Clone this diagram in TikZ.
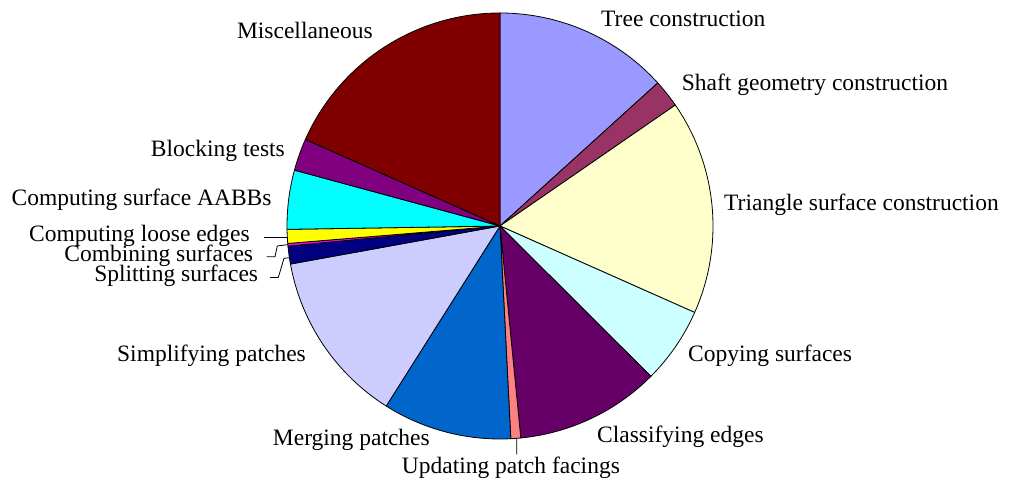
\documentclass[tikz,border=0pt]{standalone}
\usepackage{fontspec}
\setmainfont{Liberation Serif}
\usetikzlibrary{calc}
% slice colours
\definecolor{cTree}{HTML}{9999FF}
\definecolor{cShaft}{HTML}{993366}
\definecolor{cTri}{HTML}{FFFFCC}
\definecolor{cCopy}{HTML}{CCFFFF}
\definecolor{cClass}{HTML}{660066}
\definecolor{cUpd}{HTML}{FF8080}
\definecolor{cMerge}{HTML}{0066CC}
\definecolor{cSimp}{HTML}{CCCCFF}
\definecolor{cSplit}{HTML}{000080}
\definecolor{cComb}{HTML}{FF00FF}
\definecolor{cLoose}{HTML}{FFFF00}
\definecolor{cAabb}{HTML}{00FFFF}
\definecolor{cBlock}{HTML}{800080}
\definecolor{cMisc}{HTML}{800000}
\begin{document}
\begin{tikzpicture}[x=1pt,y=1pt,
  lbl/.style={font=\fontsize{23.5}{28}\selectfont, inner sep=0pt},
  wedge/.style={draw=black, line width=0.8pt, line join=round},
  leader/.style={draw=black, line width=0.8pt}]
\useasboundingbox (0,0) rectangle (1011,481);
\coordinate (c) at (500,255);
\def\R{213}
% pie slices, clockwise from the top
\foreach \a/\b/\col in {90/42.2/cTree, 42.2/34.6/cShaft, 34.6/-23.95/cTri,
    -23.95/-44.9/cCopy, -44.9/-84.4/cClass, -84.4/-87.1/cUpd,
    -87.1/-122.3/cMerge, -122.3/-169.7/cSimp, -169.7/-174.6/cSplit,
    -174.6/-175.3/cComb, -175.3/-179.1/cLoose, -179.1/-195.2/cAabb,
    -195.2/-204/cBlock, -204/-270/cMisc}
  \filldraw[wedge, fill=\col] (c) -- ++(\a:\R) arc[start angle=\a, end angle=\b, radius=\R] -- cycle;

% labels
\node[lbl, anchor=base west] (tree)  at (601,454.3)   {Tree construction};
\node[lbl, anchor=base west] (shaft) at (681.7,390.3) {Shaft geometry construction};
\node[lbl, anchor=base west] (tri)   at (724,270.3)   {Triangle surface construction};
\node[lbl, anchor=base west] (copy)  at (688,119)     {Copying surfaces};
\node[lbl, anchor=base west] (class) at (597,38)      {Classifying edges};
\node[lbl, anchor=base west] (upd)   at (401.7,7.7)   {Updating patch facings};
\node[lbl, anchor=base east] (merge) at (430,35)      {Merging patches};
\node[lbl, anchor=base east] (simp)  at (306,119)     {Simplifying patches};
\node[lbl, anchor=base east] (split) at (258.3,199.3) {Splitting surfaces};
\node[lbl, anchor=base east] (comb)  at (253.3,219.3) {Combining surfaces};
\node[lbl, anchor=base east] (loose) at (250,239.3)   {Computing loose edges};
\node[lbl, anchor=base east] (aabb)  at (271.7,275)   {Computing surface AABBs};
\node[lbl, anchor=base east] (block) at (285,324.3)   {Blocking tests};
\node[lbl, anchor=base east] (misc)  at (373,442)     {Miscellaneous};

% leader lines for the thin slices
\coordinate (pLoose) at (287.5,243.7);
\coordinate (pComb)  at (288,236.4);
\coordinate (pSplit) at (289.5,223.3);
\coordinate (pUpd)   at ($(c)+(-85.5:\R)$);
\draw[leader] ([xshift=14pt,yshift=4.4pt]loose.base east) -- (pLoose);
\draw[leader] ([xshift=13.4pt,yshift=5pt]comb.base east) -- ++(8.3,0) -- (277.3,235) -- (pComb);
\draw[leader] ([xshift=11.7pt,yshift=4.2pt]split.base east) -- ++(8.3,0) -- (284,222.7) -- (pSplit);
\draw[leader] (pUpd) -- (516.7,26.7);
\end{tikzpicture}
\end{document}
